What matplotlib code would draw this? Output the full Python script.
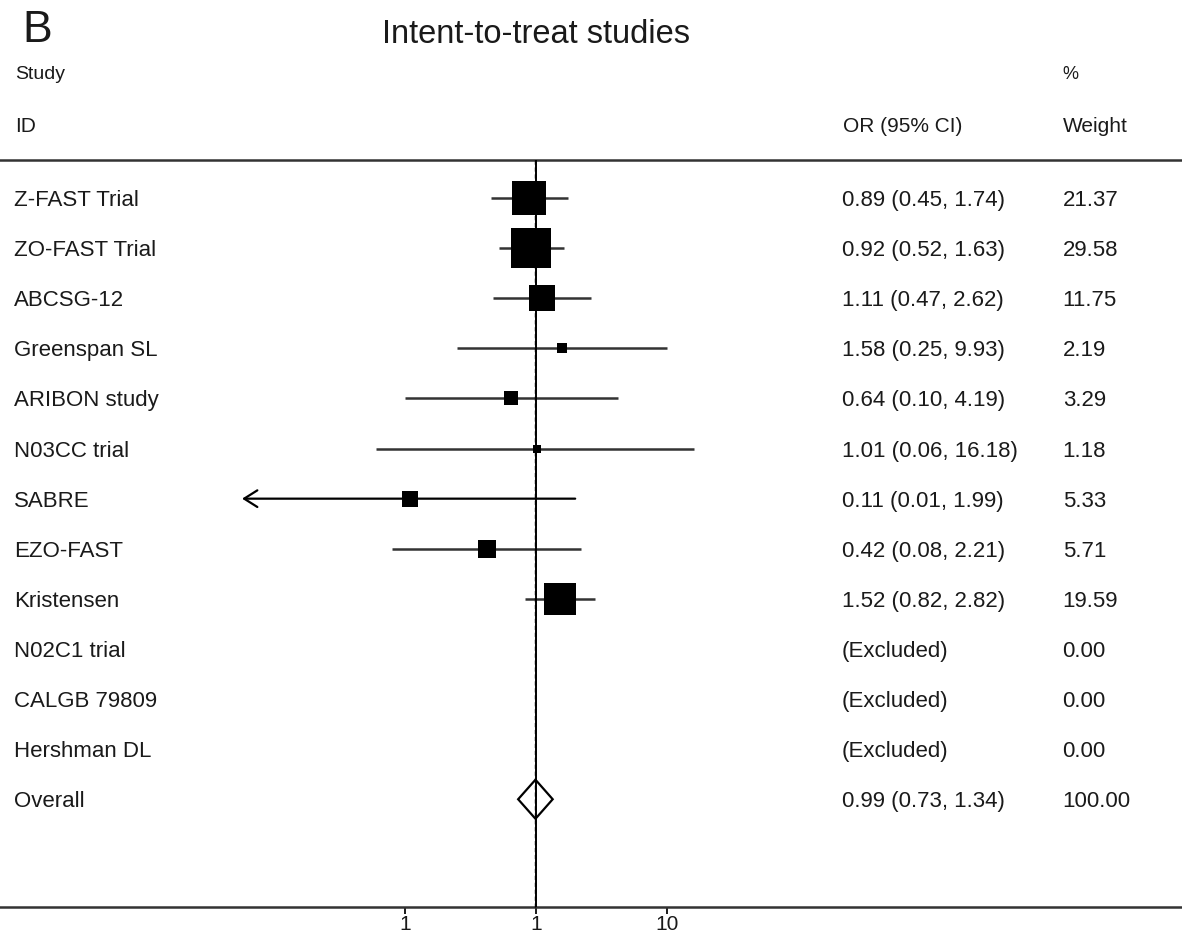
"""Forest plot

Recreate panel B of the meta-analysis figure (intent-to-treat studies).
"""
import numpy as np
import matplotlib
matplotlib.use("Agg")
import matplotlib.pyplot as plt
from matplotlib.patches import Polygon
from matplotlib.ticker import FixedLocator, FixedFormatter, NullLocator

# Data
STUDIES = ["Z-FAST Trial", "ZO-FAST Trial", "ABCSG-12", "Greenspan SL", "ARIBON study",
           "N03CC trial", "SABRE", "EZO-FAST", "Kristensen", "N02C1 trial",
           "CALGB 79809", "Hershman DL"]
OR_EST = [0.89, 0.92, 1.11, 1.58, 0.64, 1.01, 0.11, 0.42, 1.52, np.nan, np.nan, np.nan]
CI_LOW = [0.45, 0.52, 0.47, 0.25, 0.10, 0.06, 0.0057, 0.08, 0.82, np.nan, np.nan, np.nan]
CI_HIGH = [1.74, 1.63, 2.62, 9.93, 4.19, 16.18, 1.99, 2.21, 2.82, np.nan, np.nan, np.nan]
WEIGHTS = [21.37, 29.58, 11.75, 2.19, 3.29, 1.18, 5.33, 5.71, 19.59, 0.00, 0.00, 0.00]

OVERALL_EST = 0.99
OVERALL_LOW = 0.73
OVERALL_HIGH = 1.34
OVERALL_WEIGHT = 100.00

X_TICKS = [0.1, 1, 10]
X_TICK_LABELS = ["1", "1", "10"]

FONT = ["Liberation Sans", "DejaVu Sans"]
LINE_COLOR = "#333333"
ROW_SHIFT = 0.16  # baseline offset so the caps sit centred on the row


def format_ci(est, low, high):
    """Return the 'OR (95% CI)' text for a row"""
    if np.isnan(est):
        return "(Excluded)"
    return f"{est:.2f} ({low:.2f}, {high:.2f})"


def draw_rows(ax):
    """Draw the study squares, CI lines and the text columns"""
    text_tf = ax.get_yaxis_transform()  # x in axes fraction, y in data
    rows = np.arange(1, len(STUDIES) + 1)
    for row, name, est, low, high, w in zip(rows, STUDIES, OR_EST, CI_LOW, CI_HIGH, WEIGHTS):
        ax.text(0.012, row + ROW_SHIFT, name, transform=text_tf, fontsize=16, va="baseline")
        ax.text(0.712, row + ROW_SHIFT, format_ci(est, low, high), transform=text_tf,
                fontsize=16, va="baseline")
        ax.text(0.899, row + ROW_SHIFT, f"{w:.2f}", transform=text_tf, fontsize=16, va="baseline")
        if np.isnan(est):
            continue
        if low < 0.01:
            # CI runs past the plotted range: draw with an open arrow head
            ax.annotate("", xy=(low, row), xytext=(high, row),
                        arrowprops=dict(arrowstyle="->,head_length=0.95,head_width=0.6",
                                        lw=1.6, color="black", shrinkA=0, shrinkB=0))
        else:
            ax.hlines(row, low, high, color=LINE_COLOR, lw=1.8, zorder=2)
        ax.scatter([est], [row], marker="s", s=28 * w, color="black", linewidths=0, zorder=3)

    # Overall diamond
    row = len(STUDIES) + 1
    half = 0.39
    diamond = Polygon([(OVERALL_LOW, row), (OVERALL_EST, row - half),
                       (OVERALL_HIGH, row), (OVERALL_EST, row + half)],
                      closed=True, facecolor="none", edgecolor="black", lw=1.6, zorder=4)
    ax.add_patch(diamond)
    ax.text(0.012, row + ROW_SHIFT, "Overall", transform=text_tf, fontsize=16, va="baseline")
    ax.text(0.712, row + ROW_SHIFT, format_ci(OVERALL_EST, OVERALL_LOW, OVERALL_HIGH),
            transform=text_tf, fontsize=16, va="baseline")
    ax.text(0.899, row + ROW_SHIFT, f"{OVERALL_WEIGHT:.2f}", transform=text_tf,
            fontsize=16, va="baseline")


def draw_headers(ax):
    """Panel letter, title and column headers"""
    tf = ax.get_yaxis_transform()
    ax.text(0.019, -2.12, "B", transform=tf, fontsize=32, va="baseline")
    ax.text(1, -2.10, "Intent-to-treat studies", fontsize=23.5, va="baseline", ha="center")
    ax.text(0.013, -1.38, "Study", transform=tf, fontsize=14, va="baseline")
    ax.text(0.013, -0.32, "ID", transform=tf, fontsize=15, va="baseline")
    ax.text(0.713, -0.32, "OR (95% CI)", transform=tf, fontsize=15, va="baseline")
    ax.text(0.899, -1.38, "%", transform=tf, fontsize=13, va="baseline")
    ax.text(0.899, -0.32, "Weight", transform=tf, fontsize=15, va="baseline")


def main():
    plt.rcParams["font.family"] = FONT
    plt.rcParams["text.color"] = "#1a1a1a"

    fig = plt.figure(figsize=(11.82, 9.33), dpi=100)
    ax = fig.add_axes([0, 0, 1, 1])
    ax.set_xscale("log")
    ax.set_xlim(10 ** -4.092, 10 ** 4.931)
    ax.set_ylim(15.67, -2.954)

    # Frame: only the bottom axis line is kept
    for side in ["top", "left", "right"]:
        ax.spines[side].set_visible(False)
    ax.spines["bottom"].set_position(("data", 15.15))
    ax.spines["bottom"].set_linewidth(1.8)
    ax.spines["bottom"].set_color(LINE_COLOR)
    ax.xaxis.set_major_locator(FixedLocator(X_TICKS))
    ax.xaxis.set_major_formatter(FixedFormatter(X_TICK_LABELS))
    ax.xaxis.set_minor_locator(NullLocator())
    ax.tick_params(axis="x", length=5, width=1.4, pad=1, labelsize=15, colors="#1a1a1a")
    ax.set_yticks([])

    # Header rule and the null / overall lines
    ax.axhline(0.24, color=LINE_COLOR, lw=1.8)
    ax.vlines(1, 0.24, 15.15, color="black", lw=1.4, zorder=5)
    ax.vlines(OVERALL_EST, 0.24, 15.15, color="black", lw=1.0, linestyles=(0, (3, 2)), zorder=5)

    draw_headers(ax)
    draw_rows(ax)

    fig.savefig("out.png", dpi=100)


if __name__ == '__main__':
    main()
